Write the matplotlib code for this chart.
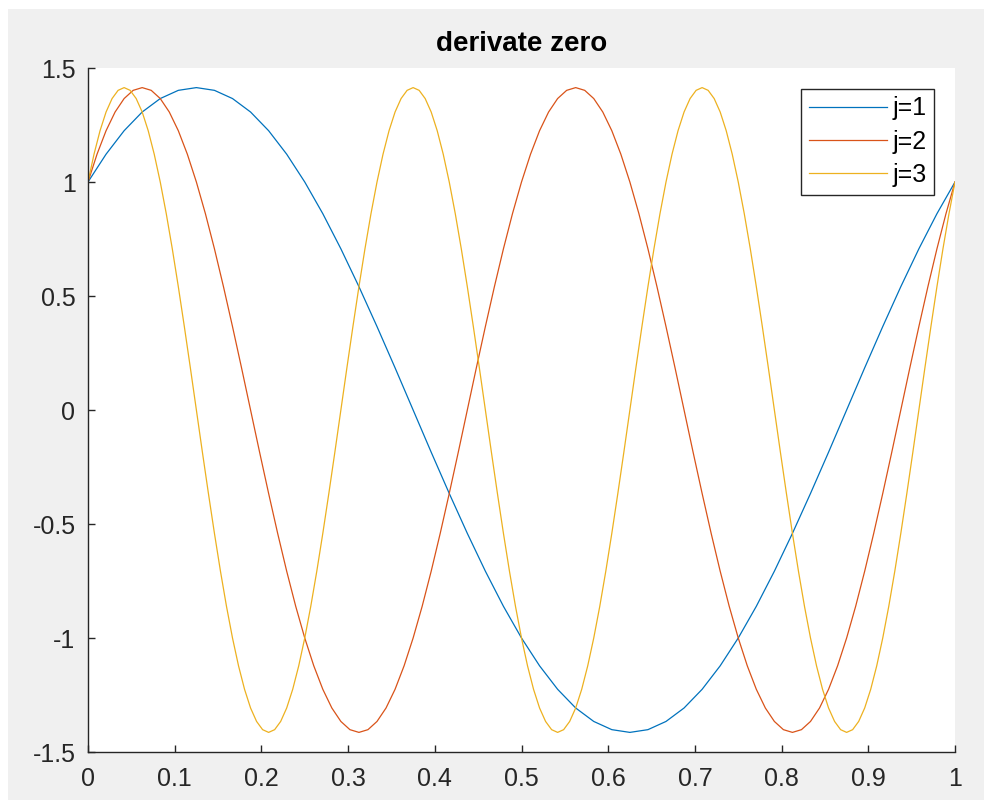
import numpy as np
import matplotlib
matplotlib.use("Agg")
import matplotlib.pyplot as plt
from matplotlib.patches import Rectangle

labels = ["j=1", "j=2", "j=3"]
colors = ["#0072BD", "#D95319", "#EDB120"]

y_j1 = [
    1.000, 1.122, 1.225, 1.307, 1.366, 1.402, 1.414, 1.402, 1.366, 1.307, 1.225, 1.122,
    1.000, 0.861, 0.707, 0.541, 0.366, 0.185, 0.000, -0.185, -0.366, -0.541, -0.707, -0.861,
    -1.000, -1.122, -1.225, -1.307, -1.366, -1.402, -1.414, -1.402, -1.366, -1.307, -1.225, -1.122,
    -1.000, -0.861, -0.707, -0.541, -0.366, -0.185, 0.000, 0.185, 0.366, 0.541, 0.707, 0.861,
    1.000,
]

y_j2 = [
    1.000, 1.122, 1.225, 1.307, 1.366, 1.402, 1.414, 1.402, 1.366, 1.307, 1.225, 1.122,
    1.000, 0.861, 0.707, 0.541, 0.366, 0.185, 0.000, -0.185, -0.366, -0.541, -0.707, -0.861,
    -1.000, -1.122, -1.225, -1.307, -1.366, -1.402, -1.414, -1.402, -1.366, -1.307, -1.225, -1.122,
    -1.000, -0.861, -0.707, -0.541, -0.366, -0.185, 0.000, 0.185, 0.366, 0.541, 0.707, 0.861,
    1.000, 1.122, 1.225, 1.307, 1.366, 1.402, 1.414, 1.402, 1.366, 1.307, 1.225, 1.122,
    1.000, 0.861, 0.707, 0.541, 0.366, 0.185, 0.000, -0.185, -0.366, -0.541, -0.707, -0.861,
    -1.000, -1.122, -1.225, -1.307, -1.366, -1.402, -1.414, -1.402, -1.366, -1.307, -1.225, -1.122,
    -1.000, -0.861, -0.707, -0.541, -0.366, -0.185, 0.000, 0.185, 0.366, 0.541, 0.707, 0.861,
    1.000,
]

y_j3 = [
    1.000, 1.122, 1.225, 1.307, 1.366, 1.402, 1.414, 1.402, 1.366, 1.307, 1.225, 1.122,
    1.000, 0.861, 0.707, 0.541, 0.366, 0.185, 0.000, -0.185, -0.366, -0.541, -0.707, -0.861,
    -1.000, -1.122, -1.225, -1.307, -1.366, -1.402, -1.414, -1.402, -1.366, -1.307, -1.225, -1.122,
    -1.000, -0.861, -0.707, -0.541, -0.366, -0.185, 0.000, 0.185, 0.366, 0.541, 0.707, 0.861,
    1.000, 1.122, 1.225, 1.307, 1.366, 1.402, 1.414, 1.402, 1.366, 1.307, 1.225, 1.122,
    1.000, 0.861, 0.707, 0.541, 0.366, 0.185, 0.000, -0.185, -0.366, -0.541, -0.707, -0.861,
    -1.000, -1.122, -1.225, -1.307, -1.366, -1.402, -1.414, -1.402, -1.366, -1.307, -1.225, -1.122,
    -1.000, -0.861, -0.707, -0.541, -0.366, -0.185, 0.000, 0.185, 0.366, 0.541, 0.707, 0.861,
    1.000, 1.122, 1.225, 1.307, 1.366, 1.402, 1.414, 1.402, 1.366, 1.307, 1.225, 1.122,
    1.000, 0.861, 0.707, 0.541, 0.366, 0.185, 0.000, -0.185, -0.366, -0.541, -0.707, -0.861,
    -1.000, -1.122, -1.225, -1.307, -1.366, -1.402, -1.414, -1.402, -1.366, -1.307, -1.225, -1.122,
    -1.000, -0.861, -0.707, -0.541, -0.366, -0.185, 0.000, 0.185, 0.366, 0.541, 0.707, 0.861,
    1.000,
]

series = [y_j1, y_j2, y_j3]

x_ticks = [0, 0.1, 0.2, 0.3, 0.4, 0.5, 0.6, 0.7, 0.8, 0.9, 1]
x_ticklabels = ["0", "0.1", "0.2", "0.3", "0.4", "0.5", "0.6", "0.7", "0.8", "0.9", "1"]
y_ticks = [-1.5, -1, -0.5, 0, 0.5, 1, 1.5]
y_ticklabels = ["-1.5", "-1", "-0.5", "0", "0.5", "1", "1.5"]
title = "derivate zero"

# ---- figure ----
plt.rcParams["font.family"] = ["Liberation Sans", "DejaVu Sans"]
plt.rcParams["axes.unicode_minus"] = False

W, H = 984, 809
fig = plt.figure(figsize=(W / 100, H / 100), dpi=100, facecolor="white")
# MATLAB figure window grey background
fig.patches.append(Rectangle((8 / W, 1 - 800 / H), (W - 8) / W, (800 - 9) / H,
                             transform=fig.transFigure, facecolor="#f0f0f0",
                             edgecolor="none", zorder=-10))

left, right, top, bottom = 88, 955, 68, 752
ax = fig.add_axes([left / W, 1 - bottom / H, (right - left) / W, (bottom - top) / H])
ax.set_facecolor("white")

for ys, lab, c in zip(series, labels, colors):
    xs = np.linspace(0, 1, len(ys))
    ax.plot(xs, ys, color=c, lw=0.9, label=lab)

ax.set_xlim(0, 1)
ax.set_ylim(-1.5, 1.5)
ax.set_xticks(x_ticks)
ax.set_xticklabels(x_ticklabels)
ax.set_yticks(y_ticks)
ax.set_yticklabels(y_ticklabels)

axcol = "#262626"
for s in ["top", "right"]:
    ax.spines[s].set_visible(False)
for s in ["left", "bottom"]:
    ax.spines[s].set_color(axcol)
    ax.spines[s].set_linewidth(1.0)

ax.tick_params(axis="both", direction="in", length=5, width=1.0, color=axcol,
               labelcolor=axcol, labelsize=18)
ax.tick_params(axis="x", pad=11)
ax.tick_params(axis="y", pad=9)

ax.set_title(title, fontsize=20, fontweight="bold", color="#000000", pad=12)

leg = ax.legend(loc="upper right",
                bbox_to_anchor=((934 - left) / (right - left), (bottom - 89) / (bottom - top)),
                borderaxespad=0, fontsize=18, handlelength=3.15, handletextpad=0.2,
                labelspacing=0.37, borderpad=0.3, frameon=True, fancybox=False)
leg.get_frame().set_edgecolor(axcol)
leg.get_frame().set_linewidth(1.0)
leg.get_frame().set_facecolor("white")
leg.get_frame().set_alpha(1.0)

fig.savefig("out.png", dpi=100, facecolor=fig.get_facecolor())
